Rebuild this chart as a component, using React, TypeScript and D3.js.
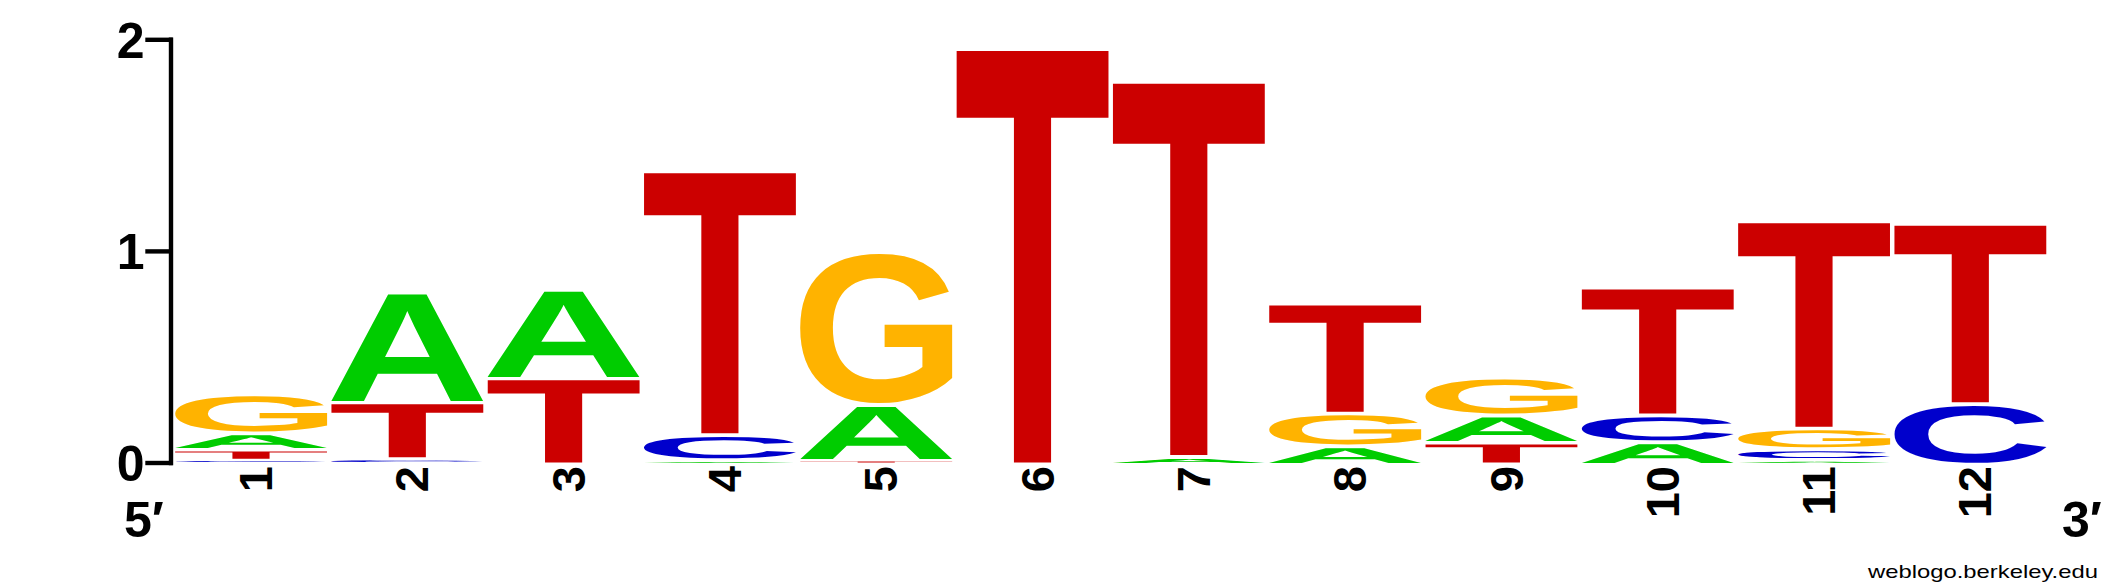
import React, { useEffect, useRef } from 'react';
import * as d3 from 'd3';

// sequence logo, 12 positions, heights in bits (bottom letters smallest)
const positions = ['1', '2', '3', '4', '5', '6', '7', '8', '9', '10', '11', '12'];
const bases = ['A', 'C', 'G', 'T'];
const bitsA = [0.077, 0.52, 0.419, 0.02, 0.263, 0, 0.035, 0.086, 0.128, 0.106, 0.023, 0];
const bitsC = [0.018, 0.025, 0, 0.118, 0, 0, 0, 0, 0, 0.126, 0.049, 0.285];
const bitsG = [0.184, 0, 0, 0, 0.721, 0, 0, 0.154, 0.176, 0, 0.097, 0];
const bitsT = [0.051, 0.267, 0.405, 1.246, 0.017, 1.961, 1.772, 0.518, 0.102, 0.602, 0.978, 0.851];
const yTicks = [0, 1, 2];

const baseBits: Record<string, number[]> = { A: bitsA, C: bitsC, G: bitsG, T: bitsT };
const baseColors: Record<string, string> = {
  A: '#00cc00',
  C: '#0000cc',
  G: '#ffb300',
  T: '#cc0000',
};

const W = 2125;
const H = 588;
const FONT = "'Liberation Sans', Arial, Helvetica, sans-serif";
const GLYPH_PX = 500;

type Ink = { l: number; r: number; a: number; d: number };

// find the painted bounds of a glyph by drawing it and scanning the pixels
function inkBounds(ch: string): Ink {
  const size = GLYPH_PX * 2;
  const ox = GLYPH_PX / 2;
  const oy = GLYPH_PX * 1.4;
  const canvas = document.createElement('canvas');
  canvas.width = size;
  canvas.height = size;
  const ctx = canvas.getContext('2d')!;
  ctx.font = `bold ${GLYPH_PX}px ${FONT}`;
  ctx.fillStyle = '#000';
  ctx.fillText(ch, ox, oy);
  const px = ctx.getImageData(0, 0, size, size).data;
  let x0 = size, x1 = -1, y0 = size, y1 = -1;
  for (let yy = 0; yy < size; yy++) {
    for (let xx = 0; xx < size; xx++) {
      if (px[(yy * size + xx) * 4 + 3] > 127) {
        if (xx < x0) x0 = xx;
        if (xx > x1) x1 = xx;
        if (yy < y0) y0 = yy;
        if (yy > y1) y1 = yy;
      }
    }
  }
  if (x1 < 0) {
    const m = ctx.measureText(ch);
    return {
      l: m.actualBoundingBoxLeft,
      r: m.actualBoundingBoxRight,
      a: m.actualBoundingBoxAscent,
      d: m.actualBoundingBoxDescent,
    };
  }
  return { l: ox - x0, r: x1 + 1 - ox, a: oy - y0, d: y1 + 1 - oy };
}

const SequenceLogo: React.FC = () => {
  const svgRef = useRef<SVGSVGElement | null>(null);

  useEffect(() => {
    if (!svgRef.current) return;
    document.body.style.margin = '0';

    const svg = d3.select(svgRef.current).attr('width', W).attr('height', H);
    svg.selectAll('*').remove();
    svg.append('rect').attr('width', W).attr('height', H).attr('fill', '#fff');

    // scales
    const x = d3
      .scaleBand<string>()
      .domain(positions)
      .range([173, 2048.6])
      .paddingInner(0.03)
      .paddingOuter(0.015);
    const y = d3.scaleLinear().domain([0, 2]).range([462.5, 39.3]);

    const metrics: Record<string, Ink> = {};
    bases.forEach(b => (metrics[b] = inkBounds(b)));

    const gap = 3.5;
    const letters = svg.append('g').attr('text-rendering', 'geometricPrecision');
    positions.forEach((pos, i) => {
      const stack = bases
        .map(b => ({ base: b, bits: baseBits[b][i] }))
        .filter(d => d.bits > 0)
        .sort((a, b) => a.bits - b.bits);
      let cum = 0;
      stack.forEach(d => {
        const yBottom = y(cum);
        const yTop = y(cum + d.bits);
        cum += d.bits;
        const boxH = yBottom - yTop;
        const inkH = Math.max(1, boxH - gap);
        const inkTop = yBottom - inkH;
        const bx = x(pos)!;
        const bw = x.bandwidth();
        const m = metrics[d.base];
        const sx = bw / (m.l + m.r);
        const sy = inkH / (m.a + m.d);
        letters
          .append('text')
          .attr('font-family', FONT)
          .attr('font-weight', 'bold')
          .attr('font-size', GLYPH_PX)
          .attr('fill', baseColors[d.base])
          .attr('transform', `translate(${bx},${inkTop}) scale(${sx},${sy}) translate(${m.l},${m.a})`)
          .text(d.base);
      });
    });

    // y axis
    const axis = d3
      .axisLeft(y)
      .tickValues(yTicks)
      .tickSize(23)
      .tickSizeOuter(0)
      .tickPadding(3)
      .tickFormat(d3.format('d'));
    const gAxis = svg
      .append('g')
      .attr('transform', 'translate(170.5,0)')
      .call(axis)
      .attr('font-family', FONT)
      .attr('font-size', 50);
    gAxis.select('.domain').attr('stroke', '#000').attr('stroke-width', 4.4).attr('stroke-linecap', 'square');
    gAxis
      .selectAll('.tick line')
      .attr('stroke', '#000')
      .attr('stroke-width', 4.4)
      .attr('stroke-linecap', 'square');
    gAxis
      .selectAll('.tick text')
      .attr('fill', '#000')
      .attr('font-weight', 'bold')
      .attr('dy', '0.36em');

    // position numbers, rotated
    svg
      .append('g')
      .selectAll('text')
      .data(positions)
      .join('text')
      .attr('transform', d => `translate(${x(d)! + x.bandwidth() / 2},466) rotate(-90)`)
      .attr('text-anchor', 'end')
      .attr('dy', 21)
      .attr('font-family', FONT)
      .attr('font-weight', 'bold')
      .attr('font-size', 47)
      .attr('fill', '#000')
      .text(d => d);

    // 5' / 3' ends
    svg
      .append('text')
      .attr('x', 124)
      .attr('y', 537)
      .attr('font-family', FONT)
      .attr('font-weight', 'bold')
      .attr('font-size', 50)
      .text('5\u2032');
    svg
      .append('text')
      .attr('x', 2062)
      .attr('y', 537)
      .attr('font-family', FONT)
      .attr('font-weight', 'bold')
      .attr('font-size', 50)
      .text('3\u2032');

    // watermark
    svg
      .append('text')
      .attr('x', 1868)
      .attr('y', 578)
      .attr('font-family', FONT)
      .attr('font-size', 19)
      .attr('textLength', 230)
      .attr('lengthAdjust', 'spacingAndGlyphs')
      .text('weblogo.berkeley.edu');
  }, []);

  return <svg ref={svgRef} style={{ display: 'block' }} />;
};

export default function App() {
  return <SequenceLogo />;
}
